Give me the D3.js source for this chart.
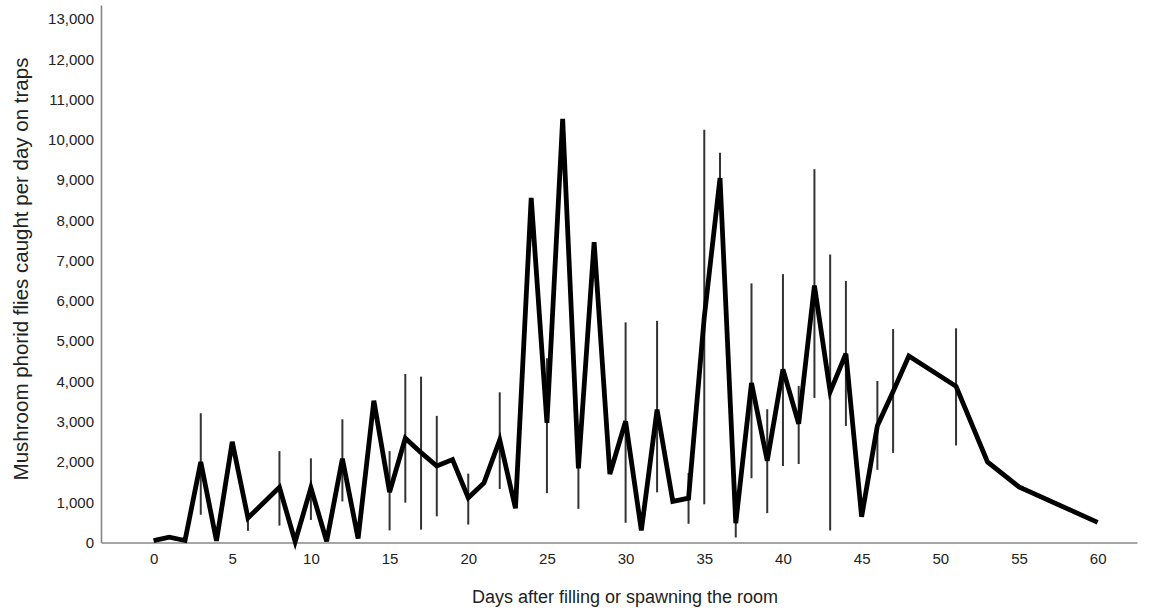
<!DOCTYPE html>
<html>
<head>
<meta charset="utf-8">
<script src="https://cdn.jsdelivr.net/npm/d3@7"></script>
<style>
  body { margin: 0; background: #fff; }
  text { font-family: "Liberation Sans", Arial, sans-serif; }
</style>
</head>
<body>
<svg id="chart" width="1151" height="611"></svg>
<script>
// days sampled and mean flies caught per day
var days = [0,1,2,3,4,5,6,8,9,10,11,12,13,14,15,16,17,18,19,20,21,22,23,24,25,26,27,28,29,30,
	    31,32,33,34,35,36,37,38,39,40,41,42,43,44,45,46,47,48,51,53,55,60];
var flies = [45,130,50,2000,40,2500,610,1370,20,1360,30,2080,100,3520,1250,2590,2230,1900,2060,1110,
	     1480,2550,850,8560,2970,10520,1840,7460,1700,3010,300,3300,1020,1100,5600,9050,480,3960,
	     2030,4300,2950,6380,3740,4690,640,2900,3750,4630,3880,2000,1380,500];

// error bars (low / high)
var barDays = [3,6,8,10,12,15,16,17,18,20,22,25,27,30,32,34,35,36,37,38,39,40,41,42,43,44,46,47,51];
var barLow  = [690,290,420,560,1020,300,990,320,650,445,1330,1225,835,490,1245,465,950,8400,125,
	       1595,730,1900,1950,3590,300,2895,1805,2225,2410];
var barHigh = [3210,720,2270,2090,3060,2270,4185,4120,3145,1710,3730,4574,2700,5465,5505,1725,10250,
	       9680,900,6435,3310,6665,3886,9270,7150,6495,4010,5300,5320];

var yTicks = d3.range(0, 13001, 1000);
var xTicks = d3.range(0, 61, 5);

var xTitle = "Days after filling or spawning the room";
var yTitle = "Mushroom phorid flies caught per day on traps";

var LEFT = 101, RIGHT = 1137, TOP = 5, BOTTOM = 542.5;

var svg = d3.select("#chart");

var x = d3.scaleLinear().domain([-3.34, 62.5]).range([LEFT, RIGHT]);
var y = d3.scaleLinear().domain([0, 13348]).range([BOTTOM, TOP]);

var points = days.map(function(d, i) { return {day: d, v: flies[i]}; });
var bars = barDays.map(function(d, i) { return {day: d, lo: barLow[i], hi: barHigh[i]}; });

// axes
var yAxis = svg.append("g")
    .attr("transform", "translate(" + LEFT + ",0)")
    .call(d3.axisLeft(y).tickValues(yTicks).tickFormat(d3.format(",")).tickSize(0).tickSizeOuter(0).tickPadding(7));

var xAxis = svg.append("g")
    .attr("transform", "translate(0," + BOTTOM + ")")
    .call(d3.axisBottom(x).tickValues(xTicks).tickSize(0).tickSizeOuter(0).tickPadding(11));

[xAxis, yAxis].forEach(function(a) {
    a.select(".domain").attr("stroke", "#888").attr("stroke-width", 1.6);
    a.selectAll("text").attr("fill", "#222").style("font-size", "15px");
});

// error bars
svg.append("g")
    .selectAll("line")
    .data(bars)
    .enter().append("line")
    .attr("x1", function(d) { return x(d.day); })
    .attr("x2", function(d) { return x(d.day); })
    .attr("y1", function(d) { return y(d.lo); })
    .attr("y2", function(d) { return y(d.hi); })
    .attr("stroke", "#333")
    .attr("stroke-width", 2);

// mean line
var line = d3.line()
    .x(function(d) { return x(d.day); })
    .y(function(d) { return y(d.v); });

svg.append("path")
    .datum(points)
    .attr("d", line)
    .attr("fill", "none")
    .attr("stroke", "#000")
    .attr("stroke-width", 4.8);

// titles
svg.append("text")
    .attr("x", 625)
    .attr("y", 603)
    .attr("text-anchor", "middle")
    .attr("fill", "#222")
    .style("font-size", "18px")
    .text(xTitle);

svg.append("text")
    .attr("transform", "translate(28,269) rotate(-90)")
    .attr("text-anchor", "middle")
    .attr("fill", "#222")
    .style("font-size", "20.5px")
    .text(yTitle);
</script>
</body>
</html>
